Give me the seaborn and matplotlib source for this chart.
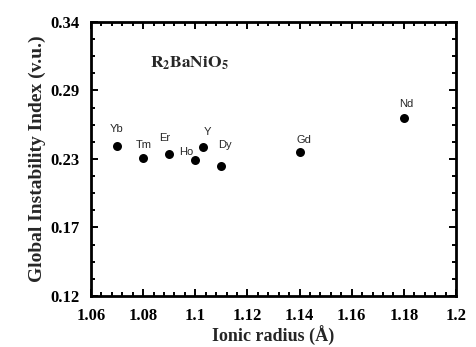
import matplotlib
matplotlib.use("Agg")
import matplotlib.pyplot as plt
import seaborn as sns
import pandas as pd
from matplotlib.ticker import FixedLocator, FixedFormatter, AutoMinorLocator

# Rare-earth elements and their ionic radius / global instability index
elements = ["Yb", "Tm", "Er", "Ho", "Y", "Dy", "Gd", "Nd"]
ionic_radius = [1.070, 1.080, 1.090, 1.100, 1.103, 1.110, 1.140, 1.180]
gii = [0.240, 0.2305, 0.2338, 0.2292, 0.2396, 0.2246, 0.2359, 0.2627]

x_ticks = [1.06, 1.08, 1.10, 1.12, 1.14, 1.16, 1.18, 1.20]
x_tick_labels = ["1.06", "1.08", "1.1", "1.12", "1.14", "1.16", "1.18", "1.2"]
y_ticks = [0.12, 0.175, 0.23, 0.285, 0.34]
y_tick_labels = ["0.12", "0.17", "0.23", "0.29", "0.34"]

# label offsets (pixels) for each element name
label_dx = [0, 1, -4, -9, 4, 4, 4, 2]
label_dy = [17, 13, 16, 8, 15, 21, 12, 14]

df = pd.DataFrame({"element": elements, "radius": ionic_radius, "gii": gii})

sns.set_style("ticks")
plt.rcParams["font.family"] = ["Liberation Serif", "DejaVu Serif"]
plt.rcParams["mathtext.fontset"] = "stix"

fig = plt.figure(figsize=(4.76, 3.47), dpi=100)
ax = fig.add_axes([0.191, 0.147, 0.767, 0.790])

sns.scatterplot(data=df, x="radius", y="gii", ax=ax, color="black",
                s=42, edgecolor="black", linewidth=0, zorder=3, legend=False)

for name, xv, yv, dx, dy in zip(elements, ionic_radius, gii, label_dx, label_dy):
    ax.annotate(name, (xv, yv), xytext=(dx, dy), textcoords="offset pixels",
                ha="center", va="center", fontsize=8,
                family=["Liberation Sans", "DejaVu Sans"])

ax.text(0.162, 0.85, r"$\mathbf{R_{2}BaNiO_{5}}$", transform=ax.transAxes,
        fontsize=12.5, ha="left", va="center")

ax.set_xlim(1.06, 1.20)
ax.set_ylim(0.12, 0.34)
ax.xaxis.set_major_locator(FixedLocator(x_ticks))
ax.xaxis.set_major_formatter(FixedFormatter(x_tick_labels))
ax.xaxis.set_minor_locator(AutoMinorLocator(5))
ax.yaxis.set_major_locator(FixedLocator(y_ticks))
ax.yaxis.set_major_formatter(FixedFormatter(y_tick_labels))
ax.yaxis.set_minor_locator(AutoMinorLocator(4))

ax.tick_params(which="both", direction="in", top=True, right=True,
               width=1.4, colors="black")
ax.tick_params(which="major", length=5)
ax.tick_params(which="minor", length=3)
ax.tick_params(axis="x", which="major", labelsize=12, pad=9)
ax.tick_params(axis="y", which="major", labelsize=12, pad=8)
for lab in ax.get_xticklabels() + ax.get_yticklabels():
    lab.set_fontweight("bold")

for sp in ax.spines.values():
    sp.set_linewidth(2)
    sp.set_color("black")

ax.set_xlabel("Ionic radius (Å)", fontsize=13, fontweight="bold", labelpad=1)
ax.set_ylabel("Global Instability Index (v.u.)", fontsize=14,
              fontweight="bold", labelpad=3)

fig.savefig("out.png", dpi=100)
